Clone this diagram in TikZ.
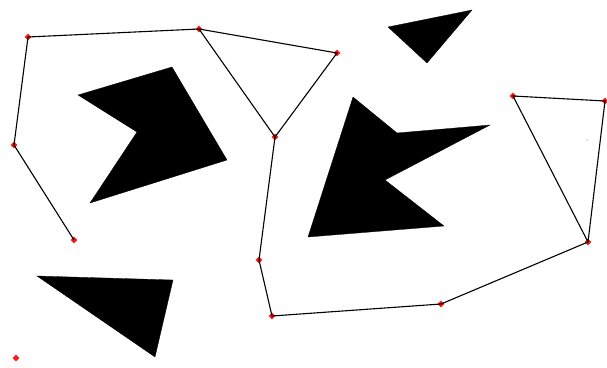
\documentclass[tikz,border=0pt]{standalone}
\usetikzlibrary{shapes.geometric}
\begin{document}
\begin{tikzpicture}[x=1pt,y=-1pt,
  pt/.style={diamond,fill=red!90!white,inner sep=0pt,minimum size=7pt},
  edge/.style={draw=black,line width=1.1pt},
  obst/.style={fill=black,draw=black,line width=0.3pt,line join=miter}]
\useasboundingbox[fill=white] (0,0) rectangle (607,367);
% obstacles
\fill[obst] (78,95) -- (172,67) -- (227,160) -- (90,203) -- (137,132) -- cycle;
\fill[obst] (388,27) -- (472,10) -- (427,63) -- cycle;
\fill[obst] (353,97) -- (397,133) -- (490,125) -- (385,180) -- (444,226) -- (308,237) -- cycle;
\fill[obst] (37,276) -- (173,280) -- (155,357) -- cycle;
% faint artifact
\fill[black!25] (587,140) circle (0.8);
% points
\node[pt] (p1) at (28,37) {};
\node[pt] (p2) at (199,29) {};
\node[pt] (p3) at (337,53) {};
\node[pt] (p4) at (275,137) {};
\node[pt] (p5) at (14,145) {};
\node[pt] (p6) at (74,240) {};
\node[pt] (p7) at (259,260) {};
\node[pt] (p8) at (272,316) {};
\node[pt] (p9) at (441,304) {};
\node[pt] (p10) at (588,242) {};
\node[pt] (p11) at (513,96) {};
\node[pt] (p12) at (605,101) {};
\node[pt] (p13) at (16,358) {};
% edges
\draw[edge] (p1.center) -- (p2.center) -- (p3.center) -- (p4.center) -- (p2.center);
\draw[edge] (p1.center) -- (p5.center) -- (p6.center);
\draw[edge] (p4.center) -- (p7.center) -- (p8.center) -- (p9.center) -- (p10.center) -- (p11.center) -- (p12.center) -- (p10.center);
\end{tikzpicture}
\end{document}
